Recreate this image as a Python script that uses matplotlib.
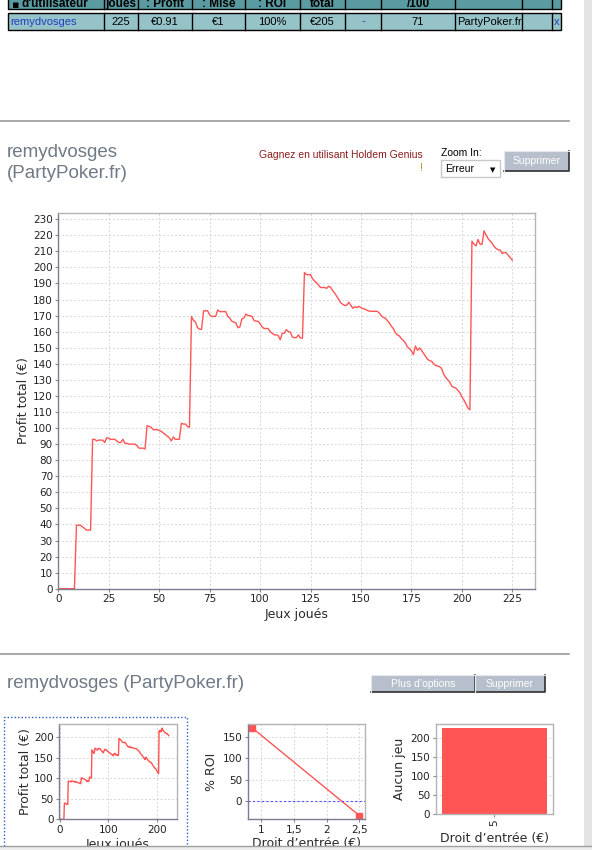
import matplotlib
matplotlib.use('Agg')
import matplotlib.pyplot as plt
from matplotlib.patches import Rectangle
from matplotlib.lines import Line2D

W, H = 592, 850

# ---------------- data ----------------
games = list(range(226))
profit = [
    0, 0, 0, 0, 0, 0, 0, 0, 0, 39.5,
    39.5, 39.5, 38.5, 37.5, 36.5, 36.5, 36.5, 93, 93, 92,
    92.5, 92.5, 92.5, 91, 94, 93.5, 93, 93, 93, 92,
    91, 91, 93, 90.5, 90.5, 90, 90, 90, 90, 89,
    87.5, 87.5, 87.5, 87, 101.5, 101, 100.5, 99, 99, 99,
    98.5, 98, 97, 96, 95, 94, 92, 94.5, 93, 93,
    93, 103, 102.5, 102.5, 101, 100.5, 169.5, 167, 166, 162.5,
    161.5, 161.5, 173, 173, 173, 170.5, 169.5, 169.5, 169.5, 173.5,
    172.5, 172.5, 172.5, 172.5, 169.5, 168.5, 166.5, 166, 165.5, 162.5,
    163, 168, 168.5, 171, 170, 170, 169.5, 167, 166.5, 166.5,
    165, 163, 162, 162, 162, 160, 159, 158, 158, 157.5,
    155, 159, 159, 161.3, 160, 159.8, 156.7, 156.3, 156.3, 158,
    156, 156, 196.8, 195.5, 195.5, 195.5, 193, 191.5, 190.5, 189,
    187.5, 187.5, 187.5, 187, 188.3, 187.5, 185.5, 184, 182, 180,
    178, 177, 176.3, 176.5, 178.4, 176.3, 174.6, 175.5, 175, 175.8,
    175, 174.4, 174, 173.3, 172.8, 172.7, 172.7, 172.7, 172.7, 171.8,
    170, 169, 168.5, 167, 165.5, 163.5, 162, 159.5, 158, 157.4,
    155.7, 154.5, 153, 150.5, 149.5, 148, 145.7, 151.1, 148.4, 149.9,
    148.4, 146.5, 144.5, 142.8, 142, 141.6, 140, 139, 138.6, 138.2,
    137, 133.5, 131.5, 130, 128.7, 126, 125.3, 125, 123.5, 122,
    119.5, 117.5, 115, 112.5, 111.4, 216.3, 214.5, 213.4, 217.4, 214.6,
    214.3, 222.8, 220.1, 218, 216.5, 215, 213, 211.8, 211, 210.8,
    208.7, 209.3, 209.1, 207.5, 206, 204.5,
]

main_xticks = [0, 25, 50, 75, 100, 125, 150, 175, 200, 225]
main_yticks = list(range(0, 231, 10))

roi_fee = [0.87, 2.5]
roi_values = [170, -34]
roi_xticks = [1, 1.5, 2, 2.5]
roi_xticklabels = ['1', '1,5', '2', '2,5']
roi_yticks = [0, 50, 100, 150]

bar_cats = ['5']
bar_values = [225]
bar_yticks = [0, 50, 100, 150, 200]

small_xticks = [0, 100, 200]
small_yticks = [0, 50, 100, 150, 200]

col_edges = [8, 104, 138, 192, 245, 300, 345, 381, 455, 522, 552, 561]
table_headers = ["d'utilisateur", 'joues', ': Profit', ': Mise', ': ROI', 'total', '', '/100', '', '', '']
table_row = ['remydvosges', '225', '€0.91', '€1', '100%', '€205', '-', '71', 'PartyPoker.fr', '', 'x']

LINE = '#ff5555'
TXT_FONT = ['Liberation Sans', 'DejaVu Sans']
CH_FONT = ['DejaVu Sans']

fig = plt.figure(figsize=(W / 100, H / 100), dpi=100)
fig.patch.set_facecolor('white')


def px_rect(l, t, r, b):
    return [l / W, 1 - b / H, (r - l) / W, (b - t) / H]


bg = fig.add_axes([0, 0, 1, 1])
bg.set_xlim(0, W)
bg.set_ylim(H, 0)
bg.axis('off')

# ---------------- top table ----------------
bg.add_patch(Rectangle((col_edges[0], -2), col_edges[-1] - col_edges[0], 11,
                       facecolor='#5a9ba1', edgecolor='black', lw=1))
bg.add_patch(Rectangle((col_edges[0], 12.5), col_edges[-1] - col_edges[0], 17,
                       facecolor='#96c3c8', edgecolor='black', lw=1))
for xe in col_edges[1:-1]:
    bg.plot([xe, xe], [-2, 9], color='black', lw=1)
    bg.plot([xe, xe], [12.5, 29.5], color='black', lw=1)
bg.text(16, 4.5, '▪', fontsize=8, family=['DejaVu Sans'], va='center', ha='center', color='black')
for i, h in enumerate(table_headers):
    if not h:
        continue
    if i == 0:
        bg.text(22, 3.5, h, fontsize=8.5, family=TXT_FONT, weight='bold', va='center', ha='left')
    else:
        cx = (col_edges[i] + col_edges[i + 1]) / 2
        bg.text(cx, 3.5, h, fontsize=8.5, family=TXT_FONT, weight='bold', va='center', ha='center')
for i, v in enumerate(table_row):
    if not v:
        continue
    color = '#1f3fbf' if i in (0, 6, 10) else 'black'
    if i == 0:
        bg.text(10, 21.5, v, fontsize=8, family=TXT_FONT, va='center', ha='left', color=color)
    elif i == 8:
        bg.text(col_edges[i] + 2, 21.5, v, fontsize=8, family=TXT_FONT, va='center', ha='left', color=color)
    else:
        cx = (col_edges[i] + col_edges[i + 1]) / 2
        bg.text(cx, 21.5, v, fontsize=8, family=TXT_FONT, va='center', ha='center', color=color)

# separators
bg.plot([0, 569], [120.7, 120.7], color='#9a9a9a', lw=1.2)
bg.plot([0, 569], [654, 654], color='#9a9a9a', lw=1.2)

# ---------------- header of main chart ----------------
TITLE_C = '#6f7a86'
bg.text(7, 152, 'remydvosges', fontsize=13.5, family=TXT_FONT, color=TITLE_C, va='center', ha='left')
bg.text(7, 173, '(PartyPoker.fr)', fontsize=13.5, family=TXT_FONT, color=TITLE_C, va='center', ha='left')
bg.text(423, 155, 'Gagnez en utilisant Holdem Genius', fontsize=7.5, family=TXT_FONT,
        color='#8b1c1c', va='center', ha='right')
bg.text(421, 168, '!', fontsize=7.5, family=TXT_FONT, color='#b08a00', va='center', ha='center')
bg.text(441, 153, 'Zoom In:', fontsize=7.5, family=TXT_FONT, color='black', va='center', ha='left')
bg.add_patch(Rectangle((441, 160), 59, 17, facecolor='white', edgecolor='#c8c8c8', lw=1))
bg.text(445, 168.5, 'Erreur', fontsize=7.5, family=TXT_FONT, color='black', va='center', ha='left')
bg.text(493, 170, '▼', fontsize=5, family=['DejaVu Sans'], color='black', va='center', ha='center')


def button(x0, y0, x1, y1, label):
    bg.add_patch(Rectangle((x0, y0), x1 - x0, y1 - y0, facecolor='#b7bfcc', edgecolor='none'))
    bg.plot([x0, x1, x1], [y1, y1, y0], color='#303030', lw=1.2)
    bg.plot([x0, x0, x1], [y1, y0, y0], color='#e6e8ee', lw=0.8)
    bg.text((x0 + x1) / 2, (y0 + y1) / 2 + 0.5, label, fontsize=7.5, family=TXT_FONT,
            color='white', va='center', ha='center')


button(504, 151, 569, 170.5, 'Supprimer')

# bottom section header
bg.text(7, 683, 'remydvosges (PartyPoker.fr)', fontsize=13.5, family=TXT_FONT, color=TITLE_C,
        va='center', ha='left')
button(371, 675, 475, 692, "Plus d’options")
button(475, 675, 545, 692, 'Supprimer')
bg.plot([475, 475], [675, 692], color='#e6e8ee', lw=0.8)


def style_axes(a, lab=7.5):
    a.set_facecolor('white')
    for s in ('left', 'bottom'):
        a.spines[s].set_color('#7c7c90')
    for s in ('top', 'right'):
        a.spines[s].set_color('#b4b4b4')
    for s in a.spines.values():
        s.set_linewidth(1)
    a.grid(True, color='#d6d6d6', ls=(0, (2, 2)), lw=0.7)
    a.set_axisbelow(True)
    a.tick_params(labelsize=lab, length=2, color='#888888', labelcolor='#222222', pad=2)
    for t in a.get_xticklabels() + a.get_yticklabels():
        t.set_family(CH_FONT)


# ---------------- main chart ----------------
ax = fig.add_axes(px_rect(58.3, 213.3, 535.3, 588.7))
ax.plot(games, profit, color=LINE, lw=1)
ax.set_xlim(0, 236.4)
ax.set_ylim(0, 233.7)
ax.set_xticks(main_xticks)
ax.set_yticks(main_yticks)
style_axes(ax)
ax.set_ylabel('Profit total (€)', fontsize=9, color='#2a2a2a', family=CH_FONT, labelpad=2.5)
ax.set_xlabel('Jeux joués', fontsize=9, color='#2a2a2a', family=CH_FONT, labelpad=3)

# ---------------- small chart 1 ----------------
a1 = fig.add_axes(px_rect(59.3, 724.3, 176.7, 819.3))
a1.plot(games, profit, color=LINE, lw=1)
a1.set_xlim(-1.5, 241.5)
a1.set_ylim(0, 232)
a1.set_xticks(small_xticks)
a1.set_yticks(small_yticks)
style_axes(a1)
a1.set_ylabel('Profit total (€)', fontsize=9, color='#2a2a2a', family=CH_FONT, labelpad=1.5)
a1.set_xlabel('Jeux joués', fontsize=9, color='#2a2a2a', family=CH_FONT, labelpad=2)
fig.add_artist(Rectangle((3.5 / W, 1 - 852 / H), 183 / W, 135 / H, transform=fig.transFigure,
                         fill=False, edgecolor='#2a5bc4', lw=1, ls=(0, (1, 1.5)), zorder=20))

# ---------------- small chart 2 ----------------
a2 = fig.add_axes(px_rect(247.7, 724.3, 365, 819))
a2.plot(roi_fee, roi_values, color=LINE, lw=1, marker='s', ms=5, mfc=LINE, mec=LINE)
a2.axhline(0, color='#5050ff', lw=0.8, ls=(0, (2, 2)))
a2.set_xlim(0.797, 2.587)
a2.set_ylim(-42, 179)
a2.set_xticks(roi_xticks)
a2.set_xticklabels(roi_xticklabels)
a2.set_yticks(roi_yticks)
style_axes(a2)
a2.set_ylabel('% ROI', fontsize=9, color='#2a2a2a', family=CH_FONT, labelpad=3)
a2.set_xlabel('Droit d’entrée (€)', fontsize=9, color='#2a2a2a', family=CH_FONT, labelpad=2)

# ---------------- small chart 3 ----------------
a3 = fig.add_axes(px_rect(435.7, 724.3, 552.7, 814))
a3.bar(range(len(bar_cats)), bar_values, width=0.9, color=LINE, edgecolor='none')
a3.set_xlim(-0.5, 0.5)
a3.set_ylim(0, 235)
a3.set_xticks(range(len(bar_cats)))
a3.set_xticklabels(bar_cats, rotation=90)
a3.set_yticks(bar_yticks)
style_axes(a3)
a3.grid(False, axis='x')
for s in a3.spines.values():
    s.set_color('#b4b4b4')
a3.set_ylabel('Aucun jeu', fontsize=9, color='#2a2a2a', family=CH_FONT, labelpad=3)
a3.set_xlabel('Droit d’entrée (€)', fontsize=9, color='#2a2a2a', family=CH_FONT, labelpad=4)

# ---------------- browser chrome ----------------
fig.add_artist(Rectangle((584 / W, 0), 8 / W, 1, transform=fig.transFigure,
                         facecolor='#e4e4e4', edgecolor='none', zorder=30))
fig.add_artist(Rectangle((0, 0), 1, 4.5 / H, transform=fig.transFigure,
                         facecolor='#ededed', edgecolor='none', zorder=30))
fig.add_artist(Line2D([0, 1], [4.5 / H, 4.5 / H], transform=fig.transFigure,
                      color='#a0a0a0', lw=1, zorder=31))

fig.savefig('out.png', dpi=100)
